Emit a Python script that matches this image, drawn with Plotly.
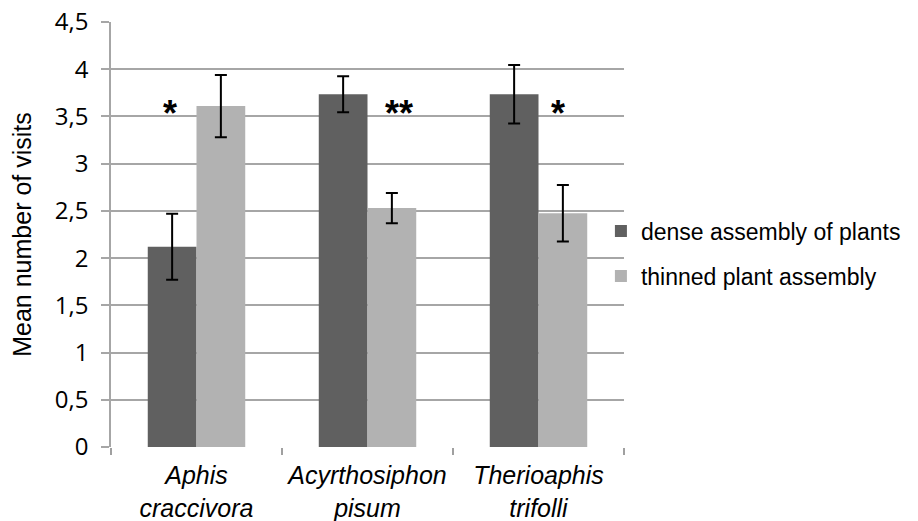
import plotly.graph_objects as go

categories = ["<i>Aphis<br>craccivora</i>", "<i>Acyrthosiphon<br>pisum</i>", "<i>Therioaphis<br>trifolli</i>"]
dense_vals = [2.12, 3.735, 3.735]
dense_err = [0.35, 0.19, 0.31]
thinned_vals = [3.61, 2.53, 2.475]
thinned_err = [0.33, 0.16, 0.30]
series_names = ["dense assembly of plants", "thinned plant assembly"]
stars = ["*", "**", "*"]
star_shift = [-27, 31, 19]
star_y = 3.53
y_ticks = [0, 0.5, 1, 1.5, 2, 2.5, 3, 3.5, 4, 4.5]

fig = go.Figure()
fig.add_trace(go.Bar(
    x=categories, y=dense_vals, name=series_names[0], legendgroup="a",
    marker=dict(color="#606060", line=dict(width=0)),
    error_y=dict(type="data", array=dense_err, color="#000000", thickness=2, width=6),
))
fig.add_trace(go.Bar(
    x=categories, y=thinned_vals, name=series_names[1], legendgroup="b",
    marker=dict(color="#b2b2b2", line=dict(width=0)),
    error_y=dict(type="data", array=thinned_err, color="#000000", thickness=2, width=6),
))

for c, s, dx in zip(categories, stars, star_shift):
    fig.add_annotation(x=c, y=star_y, text="<b>" + s + "</b>", showarrow=False,
                       xref="x", yref="y", xshift=dx, yanchor="middle",
                       font=dict(family="Liberation Sans, Arial", size=36, color="#000000"))

fig.update_layout(
    width=910, height=513,
    margin=dict(l=103, r=292, t=14, b=74),
    paper_bgcolor="white", plot_bgcolor="white",
    barmode="group", bargap=0.43, bargroupgap=0,
    separators=",.",
    font=dict(family="Liberation Sans, Arial", color="#000000"),
    legend=dict(x=0.955, xanchor="left", y=0.455, yanchor="middle",
                font=dict(family="Liberation Sans, Arial", size=23, color="#000000"),
                tracegroupgap=12, bgcolor="rgba(0,0,0,0)", itemwidth=30),
    showlegend=True,
)
fig.update_xaxes(
    showline=False, showgrid=False, ticks="outside", tickson="boundaries",
    ticklen=7, tickcolor="#a0a0a0", tickwidth=1.5, ticklabelstandoff=11,
    tickangle=0,
    tickfont=dict(family="Liberation Sans, Arial", size=25, color="#000000"),
    automargin=False,
)
fig.update_yaxes(
    range=[0, 4.5001], tickmode="array", tickvals=y_ticks,
    showgrid=True, gridcolor="#a6a6a6", gridwidth=1.5,
    showline=True, linecolor="#a6a6a6", linewidth=1.5,
    ticks="outside", ticklen=8, tickcolor="#a6a6a6", tickwidth=1.5,
    ticklabelstandoff=8, ticklabeloverflow="allow",
    tickfont=dict(family="Open Sans", size=24, color="#000000"),
    title=dict(text="Mean number of visits", standoff=22,
               font=dict(family="Liberation Sans, Arial", size=25, color="#000000")),
    zeroline=False, automargin=False,
)

fig.write_html("out.html")
